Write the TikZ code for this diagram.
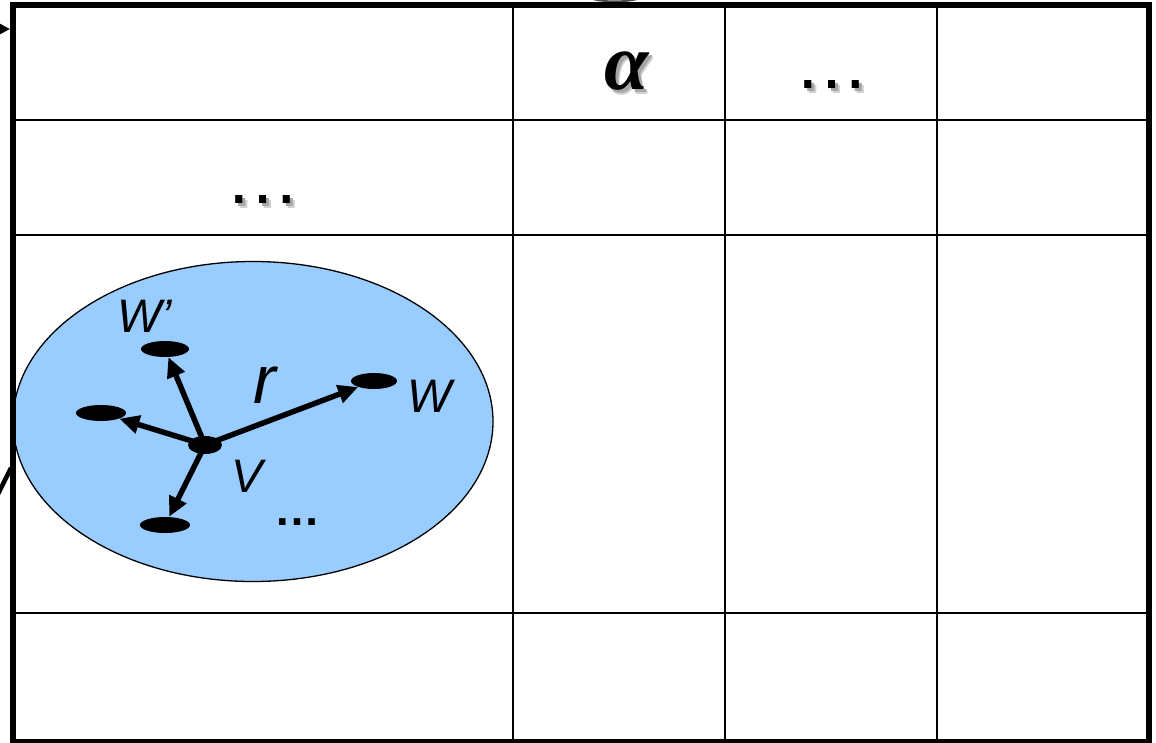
\documentclass[tikz,border=0pt]{standalone}
\usepackage{fontspec}
\setmainfont{Liberation Sans}
\newfontfamily\timesf{Liberation Serif}
\usetikzlibrary{arrows.meta,shapes.geometric}
\definecolor{blob}{RGB}{153,204,255}
\begin{document}
\begin{tikzpicture}[x=1pt,y=-1pt,
  gridline/.style={line width=2.5pt},
  framebox/.style={line width=5.5pt},
  dotn/.style={ellipse, fill=black, inner sep=0pt, minimum width=50pt, minimum height=16pt},
  arr/.style={line width=5.5pt, -{Triangle[length=20pt,width=18pt]}},
  lbl/.style={inner sep=0pt, font=\fontsize{47}{50}\selectfont\itshape},
  shtext/.style={inner sep=0pt},
  hdot/.style={inner sep=0pt, font=\fontsize{75}{80}\selectfont},
]
\useasboundingbox (0,0) rectangle (1156,742);
\fill[white] (0,0) rectangle (1156,742);

% cut-off fragments of the surrounding figure
\coordinate (la) at (-40,29);
\coordinate (lb) at (10,29);
\draw[line width=4pt, -{Triangle[length=14pt,width=14pt]}] (la) -- (lb);
\coordinate (lc) at (-12,514);
\coordinate (ld) at (11,468);
\draw[line width=4.5pt] (lc) -- (ld);
\coordinate (ta) at (585,-3);
\coordinate (tb) at (645,-3);
\draw[line width=2pt, black!70] (ta) .. controls (605,3) and (625,3) .. (tb);

% group ellipse
\node[ellipse, draw, fill=blob, line width=1.3pt, inner sep=0pt,
      minimum width=480pt, minimum height=320pt] (grp) at (253,421.5) {};

% table grid
\draw[gridline] (513,5) -- (513,742);
\draw[gridline] (725,5) -- (725,742);
\draw[gridline] (937,5) -- (937,742);
\draw[gridline] (13,120) -- (1147,120);
\draw[gridline] (13,235) -- (1147,235);
\draw[gridline] (13,613) -- (1147,613);
\draw[framebox] (13,5) rectangle (1149,742);

% graph inside the ellipse
\node[dotn, minimum width=48pt] (wp) at (165,349) {};
\node[dotn] (lft) at (101,413) {};
\node[dotn] (bot) at (165,525) {};
\node[dotn, minimum width=46pt] (w) at (374,381) {};
\node[dotn, minimum width=34pt, minimum height=18pt] (v) at (205,445) {};
\draw[arr] (v.center) -- (w);
\draw[arr] (v.center) -- (wp);
\draw[arr] (v.center) -- (lft);
\draw[arr] (v.center) -- (bot);

% labels
\node[lbl] (lwp) at (145,316.5) {W’};
\node[lbl, font=\fontsize{68}{72}\selectfont\itshape] (lr) at (265,385) {r};
\node[lbl] (lw) at (429.5,396.5) {W};
\node[lbl] (lv) at (247,476.5) {V};
\node[inner sep=0pt, font=\fontsize{46}{50}\selectfont\bfseries] (ldots) at (297,522.5) {…};

% shadowed header texts
\foreach \dx/\c in {4.5/black!18, 3/black!35} {
  \node[shtext, text=\c, font=\timesf\fontsize{80}{84}\selectfont\bfseries\itshape] at (626.5+\dx,71.5+\dx) {α};
  \node[hdot, text=\c] at (832+\dx,84.5+\dx) {…};
  \node[hdot, text=\c] at (263+\dx,199.5+\dx) {…};
}
\node[shtext, font=\timesf\fontsize{80}{84}\selectfont\bfseries\itshape] (alpha) at (626.5,71.5) {α};
\node[hdot] (hdots) at (832,84.5) {…};
\node[hdot] (rdots) at (263,199.5) {…};
\end{tikzpicture}
\end{document}
